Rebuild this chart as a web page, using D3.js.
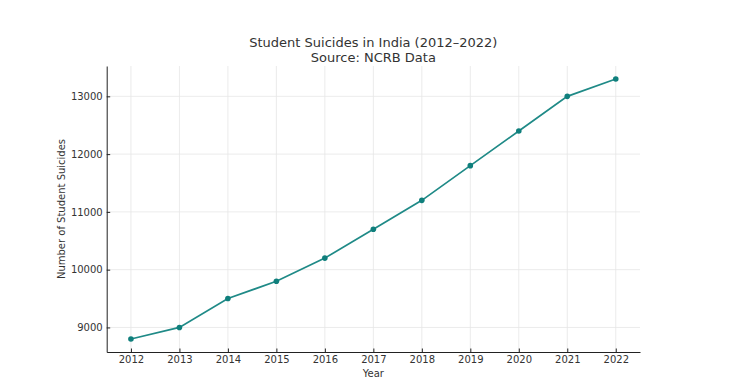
<!DOCTYPE html>
<html><head><meta charset="utf-8">
<script src="https://cdn.jsdelivr.net/npm/d3@7"></script>
<style>body{margin:0;background:#fff}</style>
</head><body><svg id="c" width="754" height="385"></svg>
<script>
const years = [2012,2013,2014,2015,2016,2017,2018,2019,2020,2021,2022];
const suicides = [8800,9000,9500,9800,10200,10700,11200,11800,12400,13000,13300];
const yTicks = [9000,10000,11000,12000,13000];
const titleLines = ["Student Suicides in India (2012–2022)","Source: NCRB Data"];

const svg = d3.select("#c");
const L=106.7, R=640, T=66, B=352;
const font = "DejaVu Sans, sans-serif";
const x = d3.scaleLinear().domain([2011.5,2022.5]).range([L,R]);
const y = d3.scaleLinear().domain([8575,13525]).range([B,T]);

// grid
svg.append("g").selectAll("line").data(years).join("line")
  .attr("x1",d=>x(d)).attr("x2",d=>x(d)).attr("y1",T).attr("y2",B)
  .attr("stroke","#e6e6e6").attr("stroke-width",0.8);
svg.append("g").selectAll("line").data(yTicks).join("line")
  .attr("x1",L).attr("x2",R).attr("y1",d=>y(d)).attr("y2",d=>y(d))
  .attr("stroke","#e6e6e6").attr("stroke-width",0.8);

const xAxis = svg.append("g").attr("transform",`translate(0,${B})`)
  .call(d3.axisBottom(x).tickValues(years).tickFormat(d3.format("d")).tickSizeInner(-3.5).tickSizeOuter(0).tickPadding(4));
const yAxis = svg.append("g").attr("transform",`translate(${L},0)`)
  .call(d3.axisLeft(y).tickValues(yTicks).tickFormat(d3.format("d")).tickSizeInner(-3.5).tickSizeOuter(0).tickPadding(4));
[xAxis,yAxis].forEach(a=>{
  a.select(".domain").attr("stroke","#222").attr("stroke-width",1);
  a.selectAll(".tick line").attr("stroke","#222");
  a.selectAll("text").attr("font-family",font).attr("font-size",10).attr("fill","#333");
});

const line = d3.line().x((d,i)=>x(years[i])).y(d=>y(d));
svg.append("path").datum(suicides).attr("d",line)
  .attr("fill","none").attr("stroke","#1f8a87").attr("stroke-width",1.7);
svg.append("g").selectAll("circle").data(suicides).join("circle")
  .attr("cx",(d,i)=>x(years[i])).attr("cy",d=>y(d)).attr("r",2.8).attr("fill","#0f7f7c");

svg.append("text").attr("x",(L+R)/2).attr("y",377).attr("text-anchor","middle")
  .attr("font-family",font).attr("font-size",10).attr("fill","#333").text("Year");
svg.append("text").attr("transform",`translate(65,${(T+B)/2}) rotate(-90)`).attr("text-anchor","middle")
  .attr("font-family",font).attr("font-size",10).attr("fill","#333").text("Number of Student Suicides");
svg.append("g").selectAll("text").data(titleLines).join("text")
  .attr("x",(L+R)/2).attr("y",(d,i)=>47+i*15).attr("text-anchor","middle")
  .attr("font-family",font).attr("font-size",13).attr("fill","#333").text(d=>d);
</script></body></html>
